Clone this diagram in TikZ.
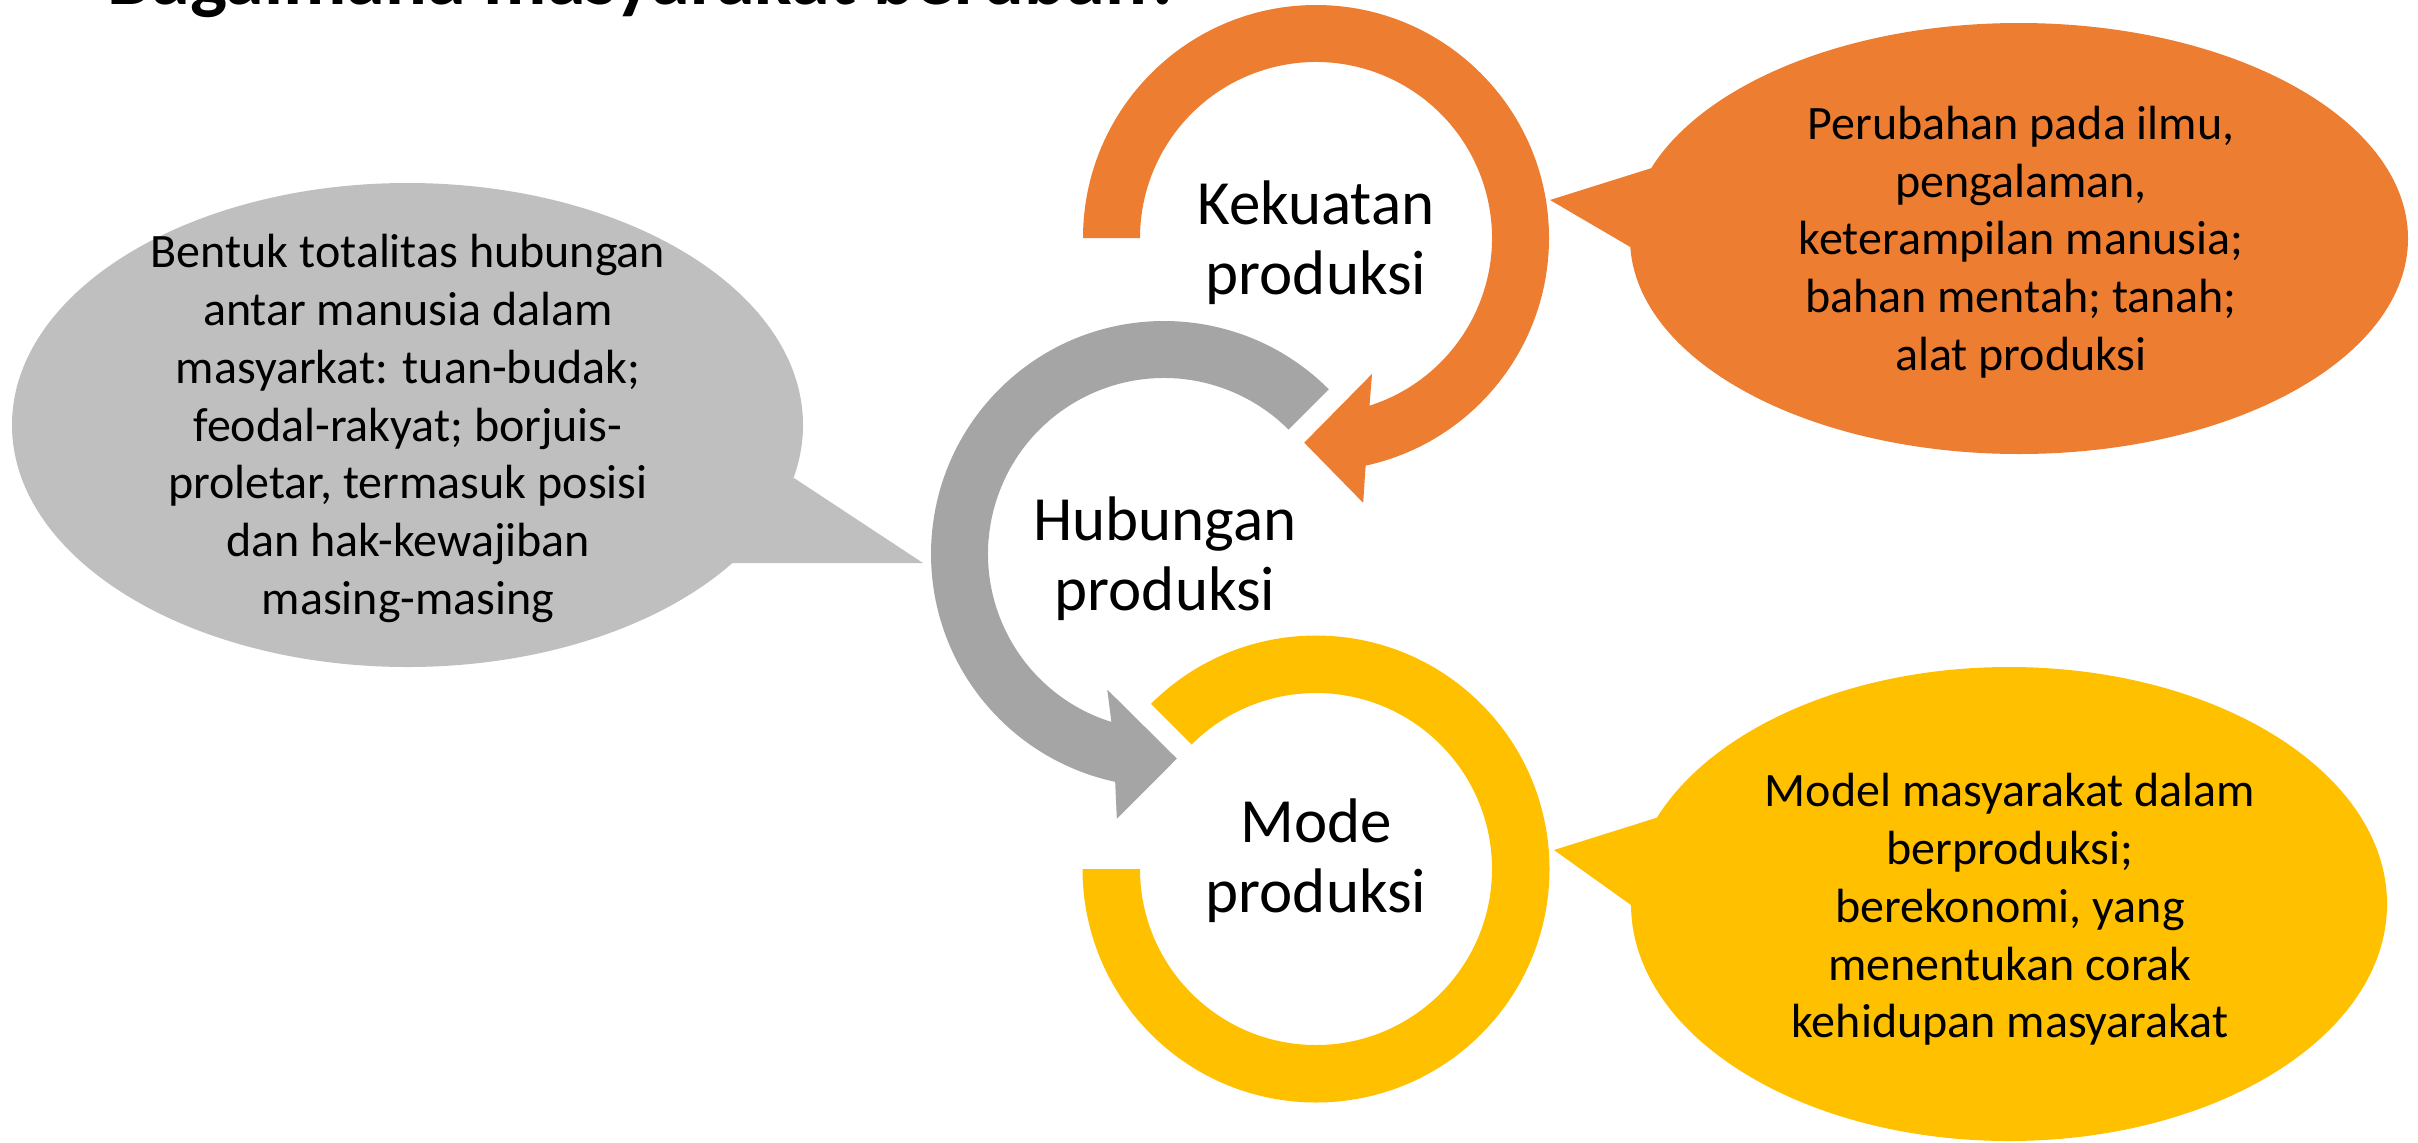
\documentclass[tikz,border=0pt]{standalone}
\usepackage{fontspec}
\setmainfont{Carlito}
\definecolor{ringorange}{HTML}{ED7D31}
\definecolor{ringgray}{HTML}{A5A5A5}
\definecolor{ringyellow}{HTML}{FFC000}
\definecolor{calloutgray}{HTML}{BFBFBF}
\begin{document}
\begin{tikzpicture}[x=0.01cm,y=-0.01cm,
  ringtext/.style={inner sep=0pt, align=center, font=\fontsize{17.9pt}{19.8pt}\selectfont},
  calltext/.style={inner sep=0pt, align=center, font=\fontsize{13.65pt}{16.42pt}\selectfont},
  titletext/.style={inner sep=0pt, font=\fontsize{22.2pt}{26pt}\selectfont\bfseries}]
\useasboundingbox (0,0) rectangle (2418,1142);

% title (cut off at the top, as in the original)
\node[titletext, anchor=base west] (title) at (107,4.5) {Bagaimana masyarakat berubah?};

% ---- circular arrows ----
% orange: Kekuatan produksi
\begin{scope}[shift={(1316,238)}]
\fill[ringorange] (180:233) arc[start angle=180, end angle=437.7, radius=233]
  -- (79.9:269) -- (93.3:205) -- (67.6:147) -- (72.3:176)
  arc[start angle=72.3, end angle=-180, radius=176] -- cycle;
\end{scope}
% gray: Hubungan produksi
\begin{scope}[shift={(1164,554)}]
\fill[ringgray] (-45:233) arc[start angle=-45, end angle=-257.9, radius=233]
  -- (-259.9:269) -- (-273.6:205) -- (-247.3:147) -- (-252.6:176)
  arc[start angle=-252.6, end angle=-45, radius=176] -- cycle;
\end{scope}
% yellow: Mode produksi
\begin{scope}[shift={(1316,869)}]
\fill[ringyellow] (225:233.5) arc[start angle=225, end angle=540, radius=233.5]
  -- (180:176) arc[start angle=180, end angle=-135, radius=176] -- cycle;
\end{scope}

\node[ringtext] (kekuatan) at (1316,243) {Kekuatan\\produksi};
\node[ringtext] (hubungan) at (1165,559) {Hubungan\\produksi};
\node[ringtext] (mode) at (1316,861) {Mode\\produksi};

% ---- callouts ----
% left gray
\fill[calloutgray] (407.5,425) ellipse[x radius=395.5, y radius=242];
\fill[calloutgray] (794,478) -- (923,563) -- (731,563) -- cycle;
\node[calltext] (hubdesc) at (408,428.5) {Bentuk totalitas hubungan\\antar manusia dalam\\masyarkat: tuan-budak;\\feodal-rakyat; borjuis-\\proletar, termasuk posisi\\dan hak-kewajiban\\masing-masing};

% right orange
\fill[ringorange] (2019,238.5) ellipse[x radius=389, y radius=215.5];
\fill[ringorange] (1655,167) -- (1550,200) -- (1632,248) -- cycle;
\node[calltext] (kekdesc) at (2021,242) {Perubahan pada ilmu,\\pengalaman,\\keterampilan manusia;\\bahan mentah; tanah;\\alat produksi};

% right yellow
\fill[ringyellow] (2009,904) ellipse[x radius=378, y radius=237];
\fill[ringyellow] (1659,817) -- (1554,850) -- (1631,905) -- cycle;
\node[calltext] (modedesc) at (2010,909.5) {Model masyarakat dalam\\berproduksi;\\berekonomi, yang\\menentukan corak\\kehidupan masyarakat};
\end{tikzpicture}
\end{document}
